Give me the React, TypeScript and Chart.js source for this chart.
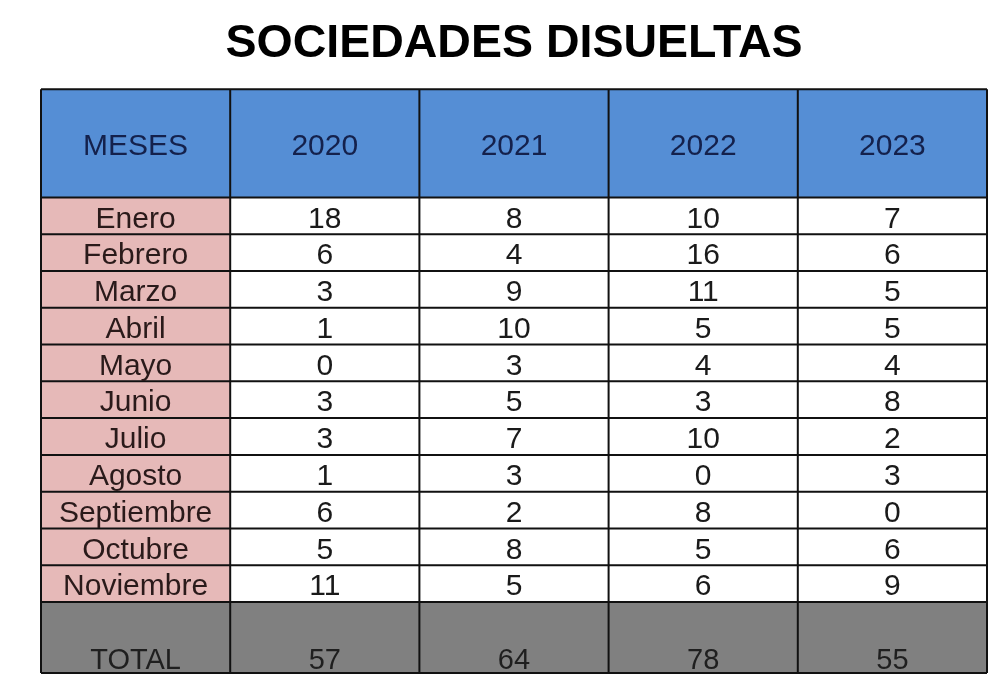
import React, { useEffect, useRef } from 'react';
import { Chart, registerables } from 'chart.js';

Chart.register(...registerables);

const TITLE = 'SOCIEDADES DISUELTAS';
const HEADER_FIRST = 'MESES';
const YEARS = ['2020', '2021', '2022', '2023'];
const MONTHS = [
  'Enero', 'Febrero', 'Marzo', 'Abril', 'Mayo', 'Junio',
  'Julio', 'Agosto', 'Septiembre', 'Octubre', 'Noviembre',
];
const VALUES_2020 = [18, 6, 3, 1, 0, 3, 3, 1, 6, 5, 11];
const VALUES_2021 = [8, 4, 9, 10, 3, 5, 7, 3, 2, 8, 5];
const VALUES_2022 = [10, 16, 11, 5, 4, 3, 10, 0, 8, 5, 6];
const VALUES_2023 = [7, 6, 5, 5, 4, 8, 2, 3, 0, 6, 9];
const TOTAL_LABEL = 'TOTAL';
const TOTALS = [57, 64, 78, 55];

const SERIES = [VALUES_2020, VALUES_2021, VALUES_2022, VALUES_2023];

// heights of header and total rows, in units of one data row
const HEADER_ROWS = 2.94;
const TOTAL_ROWS = 1.93;

const FONT = '"Liberation Sans", Arial, sans-serif';
const BLUE = '#558ED5';
const PINK = '#E6B9B8';
const GRAY = '#808080';
const LINE = '#111111';

const N_COLS = YEARS.length + 1;
const N_ROWS = MONTHS.length;
const DATA_TOP = HEADER_ROWS;
const DATA_BOTTOM = HEADER_ROWS + N_ROWS;
const TABLE_BOTTOM = DATA_BOTTOM + TOTAL_ROWS;

const tablePlugin = {
  id: 'tablePlugin',
  afterDraw(chart: any) {
    const { ctx } = chart;
    const xs = chart.scales.x;
    const ys = chart.scales.y;
    const X = (v: number) => xs.getPixelForValue(v);
    const Y = (v: number) => ys.getPixelForValue(v);

    ctx.save();
    // fills
    ctx.fillStyle = BLUE;
    ctx.fillRect(X(0), Y(0), X(N_COLS) - X(0), Y(DATA_TOP) - Y(0));
    ctx.fillStyle = PINK;
    ctx.fillRect(X(0), Y(DATA_TOP), X(1) - X(0), Y(DATA_BOTTOM) - Y(DATA_TOP));
    ctx.fillStyle = '#ffffff';
    ctx.fillRect(X(1), Y(DATA_TOP), X(N_COLS) - X(1), Y(DATA_BOTTOM) - Y(DATA_TOP));
    ctx.fillStyle = GRAY;
    ctx.fillRect(X(0), Y(DATA_BOTTOM), X(N_COLS) - X(0), Y(TABLE_BOTTOM) - Y(DATA_BOTTOM));

    // grid lines
    ctx.strokeStyle = LINE;
    ctx.lineWidth = 2;
    ctx.beginPath();
    for (let c = 0; c <= N_COLS; c++) {
      ctx.moveTo(X(c), Y(0));
      ctx.lineTo(X(c), Y(TABLE_BOTTOM));
    }
    const hLines = [0, TABLE_BOTTOM];
    for (let r = 0; r <= N_ROWS; r++) hLines.push(DATA_TOP + r);
    hLines.forEach((v) => {
      ctx.moveTo(X(0), Y(v));
      ctx.lineTo(X(N_COLS), Y(v));
    });
    ctx.stroke();

    // text
    ctx.textAlign = 'center';
    ctx.textBaseline = 'alphabetic';
    const draw = (s: string, col: number, baseline: number, size: number, color: string) => {
      ctx.font = `${size}px ${FONT}`;
      ctx.fillStyle = color;
      ctx.fillText(s, X(col + 0.5), baseline);
    };

    const hSize = 30;
    const hBase = (Y(0) + Y(DATA_TOP)) / 2 + (0.716 * hSize) / 2 + 0.5;
    draw(HEADER_FIRST, 0, hBase, hSize, '#14214C');
    YEARS.forEach((yr, i) => draw(yr, i + 1, hBase, hSize, '#14214C'));

    const dSize = 30;
    MONTHS.forEach((m, r) => {
      const center = (Y(DATA_TOP + r) + Y(DATA_TOP + r + 1)) / 2;
      const base = center + (0.716 * dSize) / 2 + 1;
      draw(m, 0, base, dSize, '#2A1A1A');
      SERIES.forEach((s, i) => draw(String(s[r]), i + 1, base, dSize, '#1A1A1A'));
    });

    const tSize = 29;
    const tBase = Y(TABLE_BOTTOM) - 4;
    draw(TOTAL_LABEL, 0, tBase, tSize, '#1F1F1F');
    TOTALS.forEach((t, i) => draw(String(t), i + 1, tBase, tSize, '#1F1F1F'));
    ctx.restore();
  },
};

export default function App() {
  const ref = useRef<HTMLCanvasElement | null>(null);

  useEffect(() => {
    if (!ref.current) return;
    const chart = new Chart(ref.current, {
      type: 'scatter',
      data: { datasets: [] },
      options: {
        responsive: false,
        animation: false,
        layout: { padding: { left: 41, right: 13, top: 0, bottom: 25 } },
        scales: {
          x: { type: 'linear', min: 0, max: N_COLS, display: false },
          y: { type: 'linear', min: 0, max: TABLE_BOTTOM, reverse: true, display: false },
        },
        plugins: {
          legend: { display: false },
          tooltip: { enabled: false },
          title: {
            display: true,
            text: TITLE,
            color: '#000000',
            font: { size: 46.5, weight: 'bold', family: FONT },
            padding: { top: 16, bottom: 17.5 },
          },
        },
      },
      plugins: [tablePlugin],
    } as any);
    return () => chart.destroy();
  }, []);

  return (
    <div style={{ position: 'fixed', left: 0, top: 0, width: 1000, height: 698, background: '#fff' }}>
      <canvas ref={ref} width={1000} height={698} style={{ width: 1000, height: 698 }} />
    </div>
  );
}
